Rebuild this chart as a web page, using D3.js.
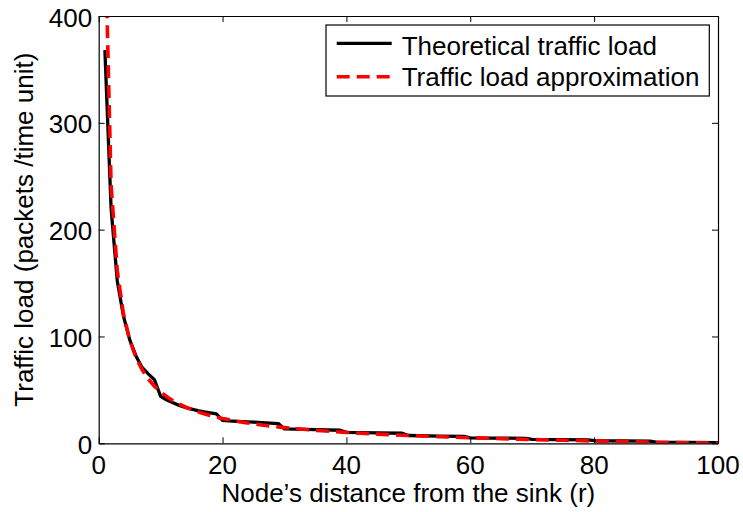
<!DOCTYPE html>
<html>
<head>
<meta charset="utf-8">
<script src="https://cdn.jsdelivr.net/npm/d3@7"></script>
<style>
  html, body { margin: 0; padding: 0; background: #fff; }
  svg { display: block; }
  text { font-family: "Liberation Sans", Arial, Helvetica, sans-serif; fill: #000; }
</style>
</head>
<body>
<svg id="chart" width="743" height="512"></svg>
<script>
// ---- data ----
const theoreticalR = [1,2,3,4,5,6,7,8,9,10,11,12,13,14,15,16,17,18,19,20,21,23,25,27,29,30,35,39,40,45,49,50,55,59,60,69,70,79,80,89,90,100];
const theoreticalLoad = [368,220,152,119,97,82,71,65,59.5,44,40.5,38,35.5,33.5,32,30.5,29.5,28.5,27.5,21.5,21,20.3,19.8,19.2,18.5,13.5,12.8,12.2,10.3,9.8,9.4,7.3,6.8,6.4,5.1,4.6,3.6,3.3,2.4,2.1,1.0,0.6];

const approxR = [1,2,3,4,5,6,7,8,9,10,11,12,13,14,15,16,17,18,19,20,22,24,26,28,30,32,34,36,38,40,45,50,55,60,65,70,75,80,85,90,95,100];
const approxLoad = [485,242,161.5,121,96.8,80.5,68.9,60.2,53.5,48,43.6,39.8,36.7,34,31.6,29.5,27.7,26.1,24.6,23.3,21,19,17.4,16,14.7,13.6,12.6,11.7,10.9,10.2,8.6,7.3,6.2,5.2,4.3,3.5,2.8,2.2,1.6,1.0,0.5,0.0];

const xTicks = [0,20,40,60,80,100];
const yTicks = [0,100,200,300,400];
const seriesNames = ["Theoretical traffic load", "Traffic load approximation"];
const xLabel = "Node\u2019s distance from the sink (r)";
const yLabel = "Traffic load (packets /time unit)";

// ---- layout ----
const svg = d3.select("#chart");
const L = 98.7, R = 718, T = 16, B = 443.3;
const x = d3.scaleLinear().domain([0,100]).range([L,R]);
const y = d3.scaleLinear().domain([0,400]).range([B,T]);
const FS = 26;
const tickLen = 6;

svg.append("defs").append("clipPath").attr("id","plotclip")
  .append("rect").attr("x",L).attr("y",T).attr("width",R-L).attr("height",B-T);

// lines
const thData = theoreticalR.map((r,i)=>[r,theoreticalLoad[i]]);
const apData = approxR.map((r,i)=>[r,approxLoad[i]]);
const line = d3.line().x(d=>x(d[0])).y(d=>y(d[1]));
const g = svg.append("g").attr("clip-path","url(#plotclip)");
g.append("path").datum(thData).attr("d",line)
  .attr("fill","none").attr("stroke","#000").attr("stroke-width",3.3).attr("stroke-linejoin","round");
g.append("path").datum(apData).attr("d",line)
  .attr("fill","none").attr("stroke","#ff0000").attr("stroke-width",3.6).attr("stroke-dasharray","13,7");

// axes frame with inward ticks (MATLAB box style)
const bottomAxis = d3.axisBottom(x).tickValues(xTicks).tickSizeInner(-tickLen).tickSizeOuter(0).tickFormat("");
const topAxis = d3.axisTop(x).tickValues(xTicks).tickSizeInner(-tickLen).tickSizeOuter(0).tickFormat("");
const leftAxis = d3.axisLeft(y).tickValues(yTicks).tickSizeInner(-tickLen).tickSizeOuter(0).tickFormat("");
const rightAxis = d3.axisRight(y).tickValues(yTicks).tickSizeInner(-tickLen).tickSizeOuter(0).tickFormat("");
function styleAxis(sel){
  sel.select(".domain").attr("stroke","#000").attr("stroke-width",1.2);
  sel.selectAll(".tick line").attr("stroke","#000").attr("stroke-width",1);
}
svg.append("g").attr("transform",`translate(0,${B})`).call(bottomAxis).call(styleAxis);
svg.append("g").attr("transform",`translate(0,${T})`).call(topAxis).call(styleAxis);
svg.append("g").attr("transform",`translate(${L},0)`).call(leftAxis).call(styleAxis);
svg.append("g").attr("transform",`translate(${R},0)`).call(rightAxis).call(styleAxis);

// tick labels
svg.append("g").selectAll("text").data(xTicks).join("text")
  .attr("x",d=>x(d)).attr("y",B+30.7).attr("text-anchor","middle")
  .attr("font-size",FS).text(d=>d);
svg.append("g").selectAll("text").data(yTicks).join("text")
  .attr("x",L-6.5).attr("y",d=>y(d)+10.5).attr("text-anchor","end")
  .attr("font-size",FS).text(d=>d);

// axis titles
svg.append("text").attr("x",(L+R)/2).attr("y",502).attr("text-anchor","middle")
  .attr("font-size",FS).text(xLabel);
svg.append("text").attr("transform",`translate(33,${(T+B)/2}) rotate(-90)`)
  .attr("text-anchor","middle").attr("font-size",FS).text(yLabel);

// legend
const lg = svg.append("g");
lg.append("rect").attr("x",326).attr("y",25).attr("width",383.3).attr("height",71)
  .attr("fill","#fff").attr("stroke","#000").attr("stroke-width",1.2);
const rows = [
  {name: seriesNames[0], color:"#000", dash:null, w:3.3, ly:43.3, ty:54.5},
  {name: seriesNames[1], color:"#ff0000", dash:"13,7", w:3.6, ly:76.7, ty:86}
];
rows.forEach(r=>{
  lg.append("line").attr("x1",336.7).attr("x2",391.7).attr("y1",r.ly).attr("y2",r.ly)
    .attr("stroke",r.color).attr("stroke-width",r.w).attr("stroke-dasharray",r.dash);
  lg.append("text").attr("x",401.7).attr("y",r.ty).attr("font-size",FS).text(r.name);
});
</script>
</body>
</html>
